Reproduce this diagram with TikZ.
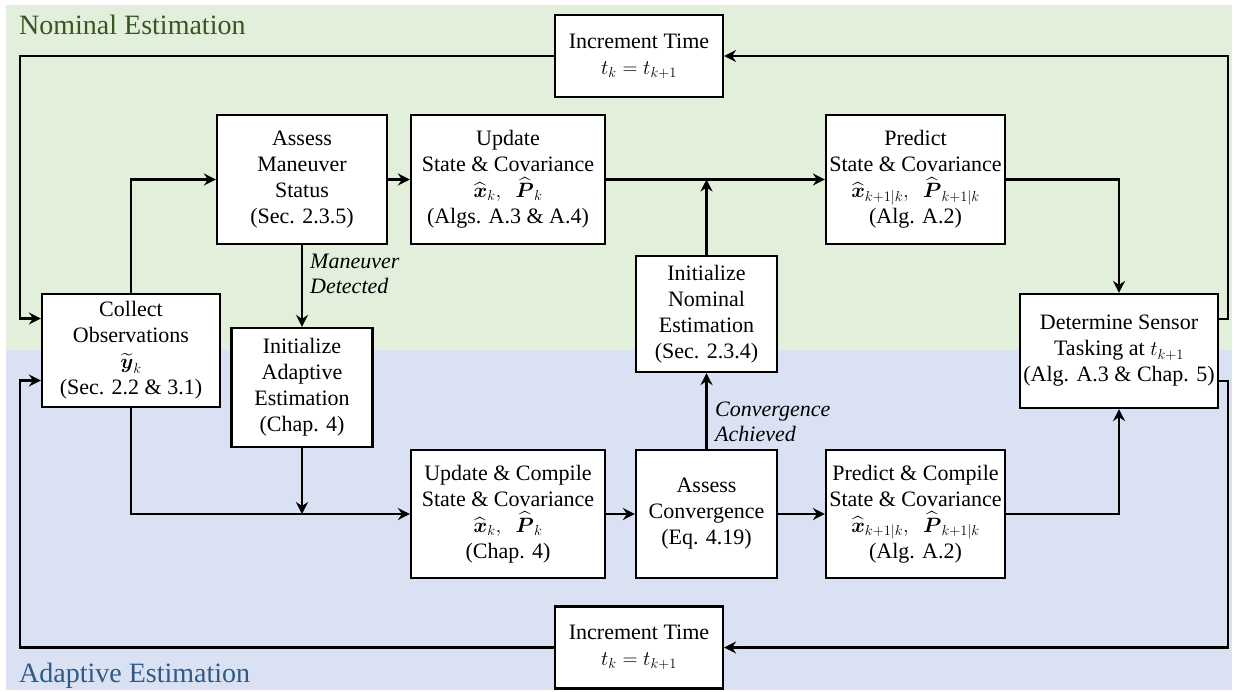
\documentclass[tikz,border=0pt]{standalone}
\usepackage{amsmath}
\usepackage{fontspec}
\setmainfont{Liberation Serif}
\usetikzlibrary{arrows.meta}

\definecolor{nomfill}{HTML}{E2EFDA}
\definecolor{adafill}{HTML}{D9E1F2}
\definecolor{nomtext}{HTML}{375623}
\definecolor{adatext}{HTML}{2E5A88}

\newcommand{\xhk}{\widehat{\boldsymbol{x}}}
\newcommand{\Phk}{\widehat{\boldsymbol{P}}}

\begin{document}
\begin{tikzpicture}[x=1pt,y=-1pt,
  box/.style={draw=black, line width=2.2pt, fill=white, inner sep=0pt,
    align=center, font=\fontsize{22}{26}\selectfont},
  flow/.style={line width=2.7pt, -{Stealth[length=12pt,width=12pt,inset=4pt]}},
  lbl/.style={font=\fontsize{22}{25}\selectfont\itshape, align=left,
    anchor=west, inner sep=0pt},
  title/.style={font=\fontsize{28}{30}\selectfont, anchor=base west, inner sep=0pt}]

% canvas and the two estimation regions
\useasboundingbox (0,0) rectangle (1238,692);
\fill[nomfill] (6,5) rectangle (1232,350);
\fill[adafill] (6,350) rectangle (1232,690);

\node[title, text=nomtext] (nomtitle) at (19,35) {Nominal Estimation};
\node[title, text=adatext] (adatitle) at (19,682) {Adaptive Estimation};

% process boxes
\node[box, minimum width=168pt, minimum height=82pt] (incT) at (639,56)
  {Increment Time\\ $t_k = t_{k+1}$};
\node[box, minimum width=170pt, minimum height=129pt] (assessM) at (302,179.5)
  {Assess\\Maneuver\\Status\\(Sec. 2.3.5)};
\node[box, minimum width=194pt, minimum height=129pt] (update) at (508,179.5)
  {Update\\State \& Covariance\\ $\xhk_k,\ \ \Phk_k$\\(Algs. A.3 \& A.4)};
\node[box, minimum width=179pt, minimum height=129pt] (predict) at (915.5,179.5)
  {Predict\\State \& Covariance\\ $\xhk_{k+1|k},\ \ \Phk_{k+1|k}$\\(Alg. A.2)};
\node[box, minimum width=141pt, minimum height=116pt] (initN) at (706.5,314)
  {Initialize\\Nominal\\Estimation\\(Sec. 2.3.4)};
\node[box, minimum width=178pt, minimum height=113pt] (collect) at (131,350.5)
  {Collect\\Observations\\ $\widetilde{\boldsymbol{y}}_k$\\(Sec. 2.2 \& 3.1)};
\node[box, minimum width=141pt, minimum height=119pt] (initA) at (302,387.5)
  {Initialize\\Adaptive\\Estimation\\(Chap. 4)};
\node[box, minimum width=198pt, minimum height=114pt] (determine) at (1119,351)
  {Determine Sensor\\Tasking at $t_{k+1}$\\(Alg. A.3 \& Chap. 5)};
\node[box, minimum width=194pt, minimum height=128pt] (updC) at (508,514)
  {Update \& Compile\\State \& Covariance\\ $\xhk_k,\ \ \Phk_k$\\(Chap. 4)};
\node[box, minimum width=141pt, minimum height=128pt] (assessC) at (706.5,514)
  {Assess\\Convergence\\(Eq. 4.19)};
\node[box, minimum width=179pt, minimum height=128pt] (predC) at (915.5,514)
  {Predict \& Compile\\State \& Covariance\\ $\xhk_{k+1|k},\ \ \Phk_{k+1|k}$\\(Alg. A.2)};
\node[box, minimum width=168pt, minimum height=82pt] (incB) at (639,647.5)
  {Increment Time\\ $t_k = t_{k+1}$};

% bend points of the outer feedback loops
\coordinate (tl) at (20,56);
\coordinate (tr) at (1228,56);
\coordinate (bl) at (20,647.5);
\coordinate (br) at (1228,647.5);

% nominal loop
\draw[flow] (incT.west) -- (tl) |- ([yshift=32pt]collect.west);
\draw[flow] (collect.north) |- (assessM.west);
\draw[flow] (assessM.east) -- (update.west);
\draw[flow] (update.east) -- (predict.west);
\draw[flow] (initN.north) -- (initN.north |- update.east);
\draw[flow] (predict.east) -| (determine.north);
\draw[flow] ([yshift=32pt]determine.east) -| (tr) -- (incT.east);

% maneuver detection
\draw[flow] (assessM.south) -- (initA.north);
\node[lbl] (mdet) at (310,273.5) {Maneuver\\Detected};

% adaptive loop
\draw[flow] (collect.south) |- (updC.west);
\draw[flow] (initA.south) -- (initA.south |- updC.west);
\draw[flow] (updC.east) -- (assessC.west);
\draw[flow] (assessC.east) -- (predC.west);
\draw[flow] (assessC.north) -- (initN.south);
\node[lbl] (conv) at (715,422) {Convergence\\Achieved};
\draw[flow] (predC.east) -| (determine.south);
\draw[flow] ([yshift=-30pt]determine.east) -| (br) -- (incB.east);
\draw[flow] (incB.west) -- (bl) |- ([yshift=-30pt]collect.west);
\end{tikzpicture}
\end{document}
